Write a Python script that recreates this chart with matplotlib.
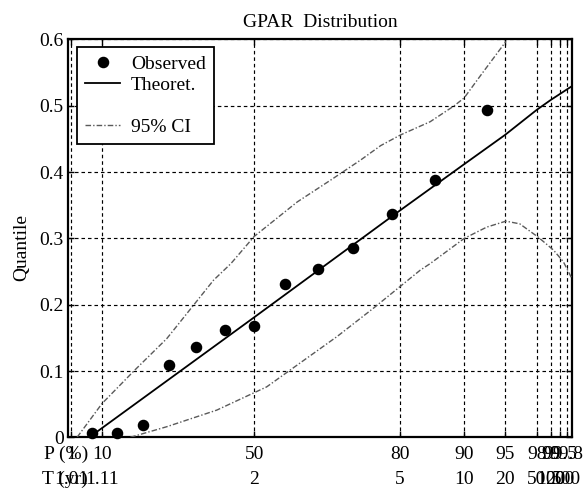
import numpy as np
import matplotlib
matplotlib.use('Agg')
import matplotlib.pyplot as plt
from matplotlib.lines import Line2D
from matplotlib.transforms import blended_transform_factory

# ---------------- data ----------------
obs_p = [7.1, 14.3, 21.4, 28.6, 35.7, 42.9, 50.0, 57.1, 64.3, 71.4, 78.6, 85.7, 92.9]
obs_q = [0.007, 0.007, 0.019, 0.109, 0.136, 0.162, 0.168, 0.231, 0.254, 0.286, 0.337, 0.388, 0.493]

theo_p = [6.3, 10, 50, 80, 90, 95, 98, 99, 99.96]
theo_q = [0.0, 0.014, 0.181, 0.342, 0.412, 0.456, 0.494, 0.509, 0.530]

ci_up_p = [2.7, 10, 19, 28, 40.1, 44.4, 50, 59.8, 66.9, 72.8, 76.6, 80.1, 85, 88.6, 90, 92.1, 95.1]
ci_up_q = [0.0, 0.051, 0.100, 0.149, 0.237, 0.262, 0.303, 0.355, 0.388, 0.418, 0.440, 0.456, 0.476, 0.500, 0.512, 0.545, 0.597]

ci_lo_p = [18.0, 28.0, 40.9, 52.9, 68.2, 75.3, 83.4, 85.0, 90.0, 92.9, 95.1, 96.5, 98.1, 99.15, 99.66, 99.947]
ci_lo_q = [0.0, 0.016, 0.041, 0.076, 0.152, 0.195, 0.252, 0.262, 0.300, 0.317, 0.326, 0.322, 0.302, 0.2825, 0.265, 0.240]

p_ticks = [1, 10, 50, 80, 90, 95, 98, 99, 99.5, 99.8]
p_labels = ['1', '10', '50', '80', '90', '95', '98', '99', '99.5', '99.8']
t_labels = ['1.01', '1.11', '2', '5', '10', '20', '50', '100', '200', '500']
y_ticks = [0, 0.1, 0.2, 0.3, 0.4, 0.5, 0.6]
y_labels = ['0', '0.1', '0.2', '0.3', '0.4', '0.5', '0.6']

# ---------------- probability axis (GPA reduced variate) ----------------
K = 0.66

def fwd(p):
    p = np.clip(np.asarray(p, dtype=float), 0, 99.9999)
    return (1 - (1 - p / 100.0) ** K) / K

def inv(w):
    w = np.clip(np.asarray(w, dtype=float), 0, 1 / K - 1e-9)
    return 100.0 * (1 - (1 - K * w) ** (1 / K))

FS = 14
plt.rcParams['font.family'] = ['Liberation Serif', 'DejaVu Serif']
plt.rcParams['font.size'] = FS

fig = plt.figure(figsize=(5.83, 4.92), dpi=100)
ax = fig.add_axes([68 / 583, 1 - 437.3 / 492, (572.3 - 68) / 583, (437.3 - 39.5) / 492])
ax.set_xscale('function', functions=(fwd, inv))
ax.set_xlim(0, 99.96)
ax.set_ylim(0, 0.6)

ci_col = '#5a5a5a'
ci_ls = (0, (4, 1.5, 1, 1.5))
ax.plot(ci_up_p, ci_up_q, color=ci_col, ls=ci_ls, lw=1.0, zorder=3)
ax.plot(ci_lo_p, ci_lo_q, color=ci_col, ls=ci_ls, lw=1.0, zorder=3)
ax.plot(theo_p, theo_q, color='black', lw=1.3, zorder=4)
ax.plot(obs_p, obs_q, 'o', color='black', ms=7.3, zorder=5, clip_on=False)

ax.set_xticks(p_ticks)
ax.set_xticklabels([])
ax.set_yticks(y_ticks)
ax.set_yticklabels(y_labels)
ax.tick_params(direction='in', length=4, width=1.0, top=True, right=True,
               labelsize=FS, pad=3)
ax.minorticks_off()
ax.grid(True, color='black', ls=(0, (3, 2.5)), lw=0.85)
for s in ax.spines.values():
    s.set_linewidth(1.6)

tr = blended_transform_factory(ax.transData, ax.transAxes)
for p, pl, tl in zip(p_ticks, p_labels, t_labels):
    ax.text(p, -0.042, pl, transform=tr, ha='center', va='center', fontsize=FS)
    ax.text(p, -0.105, tl, transform=tr, ha='center', va='center', fontsize=FS)
ax.text(0.04, -0.042, 'P (%)', transform=ax.transAxes, ha='right', va='center', fontsize=FS)
ax.text(0.04, -0.105, 'T (yr)', transform=ax.transAxes, ha='right', va='center', fontsize=FS)

ax.set_ylabel('Quantile', fontsize=FS)
ax.yaxis.set_label_coords(-0.074, 0.478)
ax.set_title('GPAR  Distribution', fontsize=FS, pad=9)

handles = [Line2D([], [], marker='o', ls='none', color='black', ms=7.3),
           Line2D([], [], color='black', lw=1.3),
           Line2D([], [], color='none'),
           Line2D([], [], color=ci_col, ls=ci_ls, lw=1.0)]
labels = ['Observed', 'Theoret.', ' ', '95% CI']
leg = ax.legend(handles, labels, loc='upper left', bbox_to_anchor=(0.018, 0.981),
                borderaxespad=0, frameon=True, fancybox=False, framealpha=1,
                edgecolor='black', fontsize=FS, handlelength=1.8,
                handletextpad=0.55, labelspacing=0.17, borderpad=0.42)
leg.get_frame().set_linewidth(1.3)

fig.savefig('out.png', dpi=100)
